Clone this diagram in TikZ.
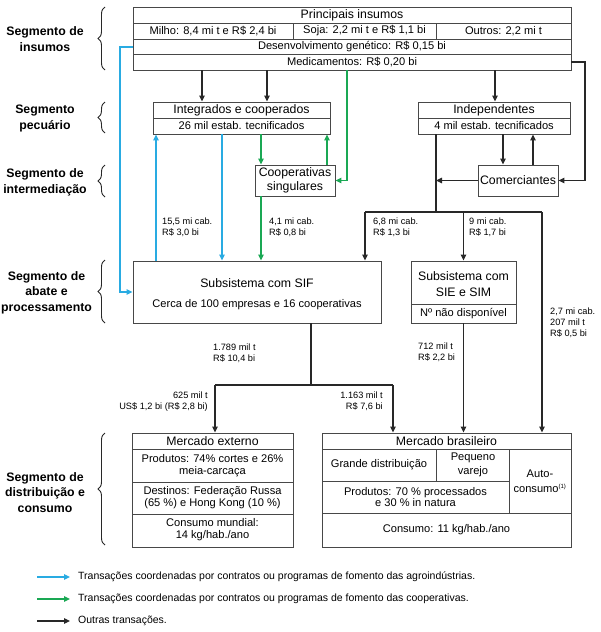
\documentclass[tikz,border=0pt]{standalone}
\usepackage{fontspec}
\setmainfont{Liberation Sans}
\usetikzlibrary{arrows.meta,decorations.pathreplacing}
\definecolor{cblue}{RGB}{41,171,226}
\definecolor{cgreen}{RGB}{26,168,84}
\definecolor{cline}{RGB}{40,40,40}
\begin{document}
\begin{tikzpicture}[x=1pt,y=-1pt,
  box/.style={draw=cline!85, line width=0.9pt, inner sep=0pt},
  hd/.style={font=\fontsize{12.3}{15.5}\selectfont, inner sep=0pt, align=center},
  tx/.style={font=\fontsize{11.1}{11.5}\selectfont, inner sep=0pt, align=center},
  lab/.style={font=\fontsize{9.2}{11}\selectfont, inner sep=0pt},
  seg/.style={font=\bfseries\fontsize{12.3}{15.5}\selectfont, align=center, inner sep=0pt},
  leg/.style={font=\fontsize{10.5}{12}\selectfont, inner ysep=0pt, inner xsep=8pt, anchor=west},
  ln/.style={line width=1.2pt, draw=cline},
  arr/.style={ln, -{Triangle[length=6pt,width=5.5pt]}},
  barr/.style={arr, draw=cblue},
  garr/.style={arr, draw=cgreen},
  brc/.style={decorate, decoration={brace, amplitude=7pt}, line width=0.9pt, draw=cline}
]
\useasboundingbox (0,0) rectangle (600,632);

% ---------- segment labels and braces ----------
\node[seg] (s1) at (45,39) {Segmento de\\insumos};
\node[seg] (s2) at (45,118.5) {Segmento\\pecuário};
\node[seg] (s3) at (45,182.5) {Segmento de\\intermediação};
\node[seg] (s4) at (46.5,292.5) {Segmento de\\abate e\\processamento};
\node[seg] (s5) at (45,492.5) {Segmento de\\distribuição e\\consumo};
\draw[brc] (105,70) -- (105,7);
\draw[brc] (105,133) -- (105,102);
\draw[brc] (105,197) -- (105,165);
\draw[brc] (105,323) -- (105,260);
\draw[brc] (105,545) -- (105,433);

% ---------- boxes ----------
\node[box, minimum width=438pt, minimum height=63pt] (topbox) at (352,38.5) {};
\draw[box] (133,23) -- (571,23) (133,39) -- (571,39) (133,54) -- (571,54)
  (293,23) -- (293,39) (436,23) -- (436,39);
\node[hd] (tpi) at (352,15) {Principais insumos};
\node[tx] (tmi) at (213,31) {Milho: 8,4 mi t e R\$ 2,4 bi};
\node[tx] (tso) at (364.5,31) {Soja: 2,2 mi t e R\$ 1,1 bi};
\node[tx] (tou) at (503.5,31) {Outros: 2,2 mi t};
\node[tx] (tde) at (352,46.5) {Desenvolvimento genético: R\$ 0,15 bi};
\node[tx] (tme) at (352,62) {Medicamentos: R\$ 0,20 bi};

\node[box, minimum width=177pt, minimum height=32pt] (integ) at (241.5,118) {};
\draw[box] (153,118) -- (330,118);
\node[hd] (tin) at (241.5,110) {Integrados e cooperados};
\node[tx] (tin2) at (241.5,126) {26 mil estab. tecnificados};

\node[box, minimum width=152pt, minimum height=32pt] (indep) at (494,118) {};
\draw[box] (418,118) -- (570,118);
\node[hd] (tid) at (494,110) {Independentes};
\node[tx] (tid2) at (494,126) {4 mil estab. tecnificados};

\node[box, hd, minimum width=80pt, minimum height=31pt] (coop) at (295,180.5) {Cooperativas\\[-2pt]singulares};
\node[box, hd, minimum width=80pt, minimum height=31pt] (comer) at (518,180.5) {Comerciantes};

\node[box, minimum width=248pt, minimum height=62pt] (sif) at (257,292) {};
\node[hd] (tsif) at (257,283) {Subsistema com SIF};
\node[tx] (tsif2) at (257,305) {Cerca de 100 empresas e 16 cooperativas};

\node[box, minimum width=105pt, minimum height=62pt] (sie) at (463.5,292) {};
\draw[box] (411,304) -- (516,304);
\node[hd] (tsie) at (463.5,284) {Subsistema com\\SIE e SIM};
\node[tx] (tsie2) at (463.5,313.5) {Nº não disponível};

\node[box, minimum width=161pt, minimum height=114pt] (merext) at (212.5,490) {};
\draw[box] (132,449) -- (293,449) (132,482) -- (293,482) (132,514) -- (293,514);
\node[hd] (tme1) at (212.5,441) {Mercado externo};
\node[tx] (tme2) at (212.5,465.5) {Produtos: 74\% cortes e 26\%\\meia-carcaça};
\node[tx] (tme3) at (212.5,497.5) {Destinos: Federação Russa\\(65 \%) e Hong Kong (10 \%)};
\node[tx] (tme4) at (212.5,529.5) {Consumo mundial:\\14 kg/hab./ano};

\node[box, minimum width=249pt, minimum height=114pt] (merbr) at (446.5,490) {};
\draw[box] (322,449) -- (571,449) (322,481) -- (509,481) (322,513) -- (571,513)
  (436,449) -- (436,481) (509,449) -- (509,513);
\node[hd] (tmb1) at (446.5,441) {Mercado brasileiro};
\node[tx] (tmb2) at (379,465) {Grande distribuição};
\node[tx, font=\fontsize{11.1}{14}\selectfont] (tmb3) at (473,465) {Pequeno\\varejo};
\node[tx, font=\fontsize{11.1}{15}\selectfont] (tmb4) at (540,481) {Auto-\\consumo\textsuperscript{\fontsize{6}{6}\selectfont(1)}};
\node[tx] (tmb5) at (415.5,497) {Produtos: 70 \% processados\\e 30 \% in natura};
\node[tx] (tmb6) at (446.5,529.5) {Consumo: 11 kg/hab./ano};

% ---------- helper coordinates ----------
\coordinate (xa) at (202,0); \coordinate (xb) at (267,0);
\coordinate (xc) at (495,0); \coordinate (xd) at (503,0);
\coordinate (xe) at (533,0); \coordinate (xf) at (436,0);
\coordinate (xg) at (365,0); \coordinate (xh) at (463.5,0);
\coordinate (xi) at (542,0); \coordinate (xj) at (311,0);
\coordinate (xk) at (215,0); \coordinate (xl) at (393,0);
\coordinate (xm) at (156,0); \coordinate (xn) at (222,0);
\coordinate (xo) at (261,0); \coordinate (xp) at (327,0);
\coordinate (xq) at (347,0); \coordinate (xr) at (585,0);
\coordinate (xs) at (120,0);
\coordinate (ysplit) at (0,212); \coordinate (ysplit2) at (0,385);
\coordinate (ymed) at (0,62); \coordinate (ydev) at (0,47);

% ---------- black connectors ----------
\draw[arr] (topbox.south -| xa) -- (integ.north -| xa);
\draw[arr] (topbox.south -| xb) -- (integ.north -| xb);
\draw[arr] (topbox.south -| xc) -- (indep.north -| xc);
\draw[arr] (topbox.east |- ymed) -| (xr |- comer.east) -- (comer.east);
\draw[arr] (indep.south -| xd) -- (comer.north -| xd);
\draw[arr] (comer.north -| xe) -- (indep.south -| xe);
\draw[ln] (indep.south -| xf) -- (xf |- ysplit);
\draw[arr] (comer.west) -- (comer.west -| xf);
\draw[ln] (xg |- ysplit) -- (xi |- ysplit);
\draw[arr] (xg |- ysplit) -- (sif.north -| xg);
\draw[arr] (xh |- ysplit) -- (sie.north -| xh);
\draw[arr] (xi |- ysplit) -- (merbr.north -| xi);
\draw[ln] (sif.south -| xj) -- (xj |- ysplit2);
\draw[ln] (xk |- ysplit2) -- (xl |- ysplit2);
\draw[arr] (xk |- ysplit2) -- (merext.north -| xk);
\draw[arr] (xl |- ysplit2) -- (merbr.north -| xl);
\draw[arr] (sie.south -| xh) -- (merbr.north -| xh);

% ---------- blue connectors ----------
\draw[barr] (topbox.west |- ydev) -| (xs |- sif.west) -- (sif.west);
\draw[barr] (sif.north -| xm) -- (integ.south -| xm);
\draw[barr] (integ.south -| xn) -- (sif.north -| xn);

% ---------- green connectors ----------
\draw[garr] (integ.south -| xo) -- (coop.north -| xo);
\draw[garr] (coop.north -| xp) -- (integ.south -| xp);
\draw[garr] (topbox.south -| xq) |- (coop.east);
\draw[garr] (coop.south -| xo) -- (sif.north -| xo);

% ---------- flow labels ----------
\node[lab, anchor=west, align=left] (l1) at (162,227.5) {15,5 mi cab.\\R\$ 3,0 bi};
\node[lab, anchor=west, align=left] (l2) at (269,227.5) {4,1 mi cab.\\R\$ 0,8 bi};
\node[lab, anchor=west, align=left] (l3) at (373,227.5) {6,8 mi cab.\\R\$ 1,3 bi};
\node[lab, anchor=west, align=left] (l4) at (469,227.5) {9 mi cab.\\R\$ 1,7 bi};
\node[lab, anchor=west, align=left] (l5) at (550,323) {2,7 mi cab.\\207 mil t\\R\$ 0,5 bi};
\node[lab, anchor=west, align=left] (l6) at (213,353) {1.789 mil t\\R\$ 10,4 bi};
\node[lab, anchor=west, align=left] (l7) at (418,352.5) {712 mil t\\R\$ 2,2 bi};
\node[lab, anchor=east, align=right] (l8) at (208,401.5) {625 mil t\\US\$ 1,2 bi (R\$ 2,8 bi)};
\node[lab, anchor=east, align=right] (l9) at (383,401.5) {1.163 mil t\\R\$ 7,6 bi};

% ---------- legend ----------
\coordinate (la) at (37,577); \coordinate (lb) at (37,599); \coordinate (lc) at (37,621);
\node[leg] (g1) at (70,577) {Transações coordenadas por contratos ou programas de fomento das agroindústrias.};
\node[leg] (g2) at (70,599) {Transações coordenadas por contratos ou programas de fomento das cooperativas.};
\node[leg] (g3) at (70,621) {Outras transações.};
\draw[barr] (la) -- (g1.west);
\draw[garr] (lb) -- (g2.west);
\draw[arr] (lc) -- (g3.west);
\end{tikzpicture}
\end{document}
